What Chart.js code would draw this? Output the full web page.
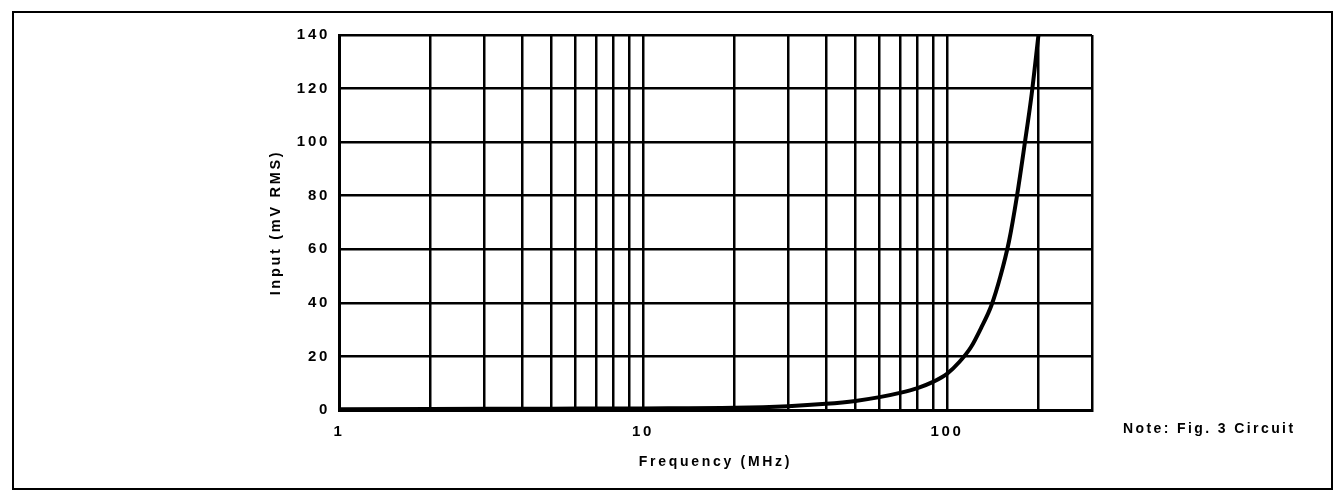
<!DOCTYPE html>
<html>
<head>
<meta charset="utf-8">
<script src="https://cdn.jsdelivr.net/npm/chart.js@4/dist/chart.umd.min.js"></script>
<style>
  html, body { margin: 0; padding: 0; background: #fff; }
  canvas { display: block; }
</style>
</head>
<body>
<canvas id="freqChart" width="1342" height="493"></canvas>
<script>
// frequency (MHz) and input level (mV RMS)
const frequencyMHz = [1, 2, 5, 10, 20, 30, 40, 50, 60, 70, 80, 90, 100, 110, 120, 130, 140, 150, 160, 170, 180, 190, 200];
const inputMv      = [0.3, 0.4, 0.5, 0.6, 0.8, 1.4, 2.3, 3.4, 4.8, 6.4, 8.2, 10.5, 13.5, 18, 23.5, 31, 39, 50, 63, 80, 99, 118, 140];
const xGridValues  = [1, 2, 3, 4, 5, 6, 7, 8, 9, 10, 20, 30, 40, 50, 60, 70, 80, 90, 100, 200, 300];
const xTickLabels  = [1, 10, 100];
const yTicks       = [0, 20, 40, 60, 80, 100, 120, 140];
const noteText     = 'Note: Fig. 3 Circuit';

const fontFamily = '"Liberation Sans", Arial, Helvetica, sans-serif';

// frame, letter spacing and the side note
const pagePlugin = {
    id: 'page',
    beforeDraw(chart) {
        const ctx = chart.ctx;
        ctx.letterSpacing = '2.7px';
        ctx.save();
        ctx.fillStyle = '#fff';
        ctx.fillRect(0, 0, chart.width, chart.height);
        ctx.strokeStyle = '#000';
        ctx.lineWidth = 2;
        ctx.strokeRect(13, 12, 1319, 477);
        ctx.restore();
    },
    afterDraw(chart) {
        const ctx = chart.ctx;
        ctx.save();
        ctx.letterSpacing = '2.4px';
        ctx.font = 'bold 14px ' + fontFamily;
        ctx.fillStyle = '#000';
        ctx.textAlign = 'left';
        ctx.textBaseline = 'middle';
        ctx.fillText(noteText, 1123, 429);
        ctx.restore();
    }
};

new Chart(document.getElementById('freqChart'), {
    type: 'line',
    data: {
        datasets: [{
            data: frequencyMHz.map((f, i) => ({ x: f, y: inputMv[i] })),
            borderColor: '#000',
            borderWidth: 4,
            pointRadius: 0,
            cubicInterpolationMode: 'monotone',
            fill: false
        }]
    },
    options: {
        responsive: false,
        animation: false,
        devicePixelRatio: 1,
        layout: { padding: { left: 259, right: 250, top: 35, bottom: 13 } },
        plugins: { legend: { display: false }, tooltip: { enabled: false } },
        scales: {
            x: {
                type: 'logarithmic',
                min: 1,
                max: 300,
                afterFit(scale) { scale.height = 70; },
                afterBuildTicks(scale) { scale.ticks = xGridValues.map(v => ({ value: v })); },
                grid: { color: '#000', lineWidth: 2.5, drawTicks: false },
                border: { color: '#000', width: 3 },
                ticks: {
                    autoSkip: false,
                    maxRotation: 0,
                    padding: 13,
                    color: '#000',
                    font: { family: fontFamily, size: 15, weight: 'bold' },
                    callback: (v) => xTickLabels.includes(v) ? String(v) : ''
                },
                title: {
                    display: true,
                    text: 'Frequency (MHz)',
                    color: '#000',
                    font: { family: fontFamily, size: 14, weight: 'bold' },
                    padding: { top: 0, bottom: 9 }
                }
            },
            y: {
                min: 0,
                max: 140,
                afterFit(scale) { scale.width = 80; },
                afterBuildTicks(scale) { scale.ticks = yTicks.map(v => ({ value: v })); },
                grid: { color: '#000', lineWidth: 2.5, drawTicks: false },
                border: { color: '#000', width: 3 },
                ticks: {
                    padding: 9,
                    color: '#000',
                    font: { family: fontFamily, size: 15, weight: 'bold' }
                },
                title: {
                    display: true,
                    text: 'Input (mV RMS)',
                    color: '#000',
                    font: { family: fontFamily, size: 14.5, weight: 'bold' },
                    padding: { top: 8, bottom: 0 }
                }
            }
        }
    },
    plugins: [pagePlugin]
});
</script>
</body>
</html>
